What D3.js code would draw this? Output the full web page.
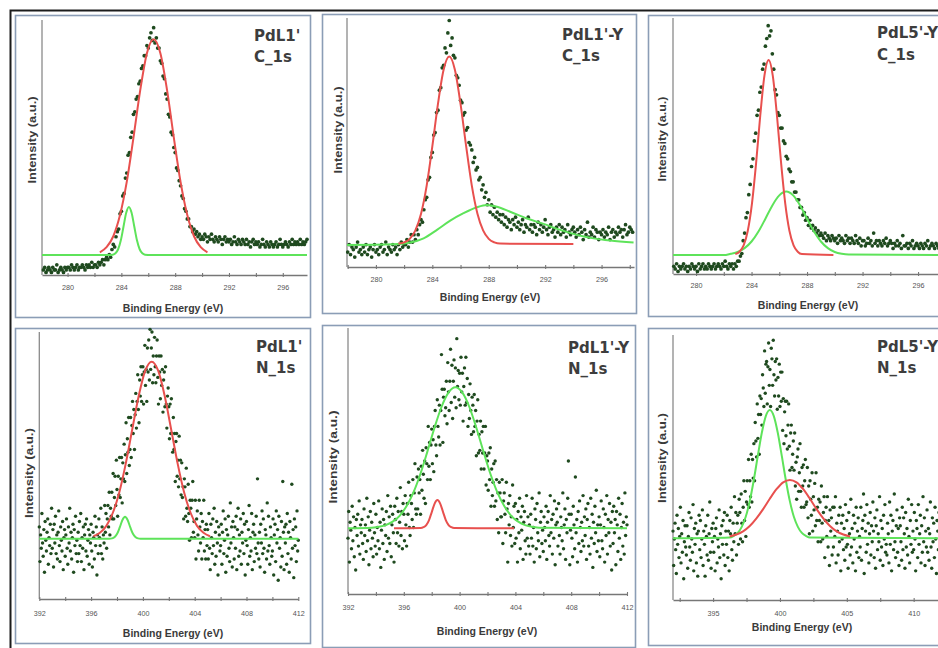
<!DOCTYPE html>
<html>
<head>
<meta charset="utf-8">
<script src="https://cdn.jsdelivr.net/npm/d3@7"></script>
<style>
  html, body { margin: 0; padding: 0; background: #fff; }
  svg { display: block; }
</style>
</head>
<body>
<svg id="fig" width="938" height="648"></svg>
<script>
// ---------------- axis ticks ----------------
const c1sTicks = [280, 284, 288, 292, 296];
const c1sMinorTicks = [278, 282, 286, 290, 294, 298];
const n1sTicks = [392, 396, 400, 404, 408, 412];
const n1sMinorTicks = [394, 398, 402, 406, 410];
const n1sTicksWide = [395, 400, 405, 410];
const n1sMinorTicksWide = [392.5, 397.5, 402.5, 407.5];

const sampleNames = ["PdL1'", "PdL1'-Y", "PdL5'-Y"];
const regionNames = ["C_1s", "N_1s"];

// ---------------- measured spectra ----------------
// intensity in a.u. (0 = energy axis, 100 = top of intensity axis),
// one value per energy step starting at the given binding energy
const c1sStep = 0.1;
const n1sStep = 0.05;

const obsC1sPdL1Start = 278.2;
const obsC1sPdL1 = [
  2,3,1,2,3,2,1,3,2,2,4,1,2,3,2,1,3,2,3,
  3,2,4,3,2,3,4,2,3,3,4,3,2,4,3,4,3,5,3,4,
  4,3,5,4,5,
  6,4,6,7,6,8,7,10,12,11,
  15,17,18,24,25,31,32,38,40,47,
  48,54,56,63,64,69,70,75,76,81,
  82,86,86,90,89,93,95,92,97,91,
  93,89,89,84,83,78,77,71,69,63,
  62,56,55,50,48,42,41,37,35,31,
  30,26,25,22,22,19,19,17,18,16,
  17,15,16,14,15,
  14,16,15,13,15,14,16,14,13,15,
  14,13,15,14,12,14,15,13,14,13,
  14,12,13,15,13,12,14,13,12,14,
  13,12,14,12,13,11,13,14,12,13,
  12,13,11,12,14,12,11,13,12,11,
  13,12,11,12,13,11,12,14,12,11,
  12,13,12,11,13,12,14,12,13,12,
  13,12,14,12,13,12,13,14
];

const obsC1sPdL1YStart = 278.0;
const obsC1sPdL1Y = [
  6,9,5,8,7,4,8,10,6,7,5,
  8,6,9,5,7,8,4,7,9,6,
  7,5,8,9,6,7,10,5,8,7,
  6,9,7,8,5,9,7,10,8,9,
  9,11,8,10,
  13,10,13,11,15,13,17,19,18,23,
  27,28,35,36,44,46,53,54,62,63,
  71,72,80,81,88,86,94,99,89,92,
  85,84,77,76,73,67,66,61,62,55,
  56,50,49,47,42,44,39,40,35,36,
  31,33,28,30,25,27,22,25,21,24,
  20,22,19,21,18,21,
  17,20,16,19,18,15,19,17,20,16,
  18,15,17,19,14,17,16,20,15,17,
  14,17,16,13,18,15,17,14,16,19,
  15,13,16,17,14,15,12,16,14,17,
  13,16,14,15,12,17,14,13,15,16,
  14,12,15,13,16,14,11,15,13,18,
  12,14,13,16,12,15,14,11,14,13,
  15,12,14,13,16,11,14,15,12,14,
  13,16,14,15,12,15,17,13,14,16,15,14
];

const obsC1sPdL5YStart = 278.4;
const obsC1sPdL5Y = [
  3,2,4,1,3,2,3,4,2,3,
  1,3,2,4,3,2,3,1,4,2,
  3,4,2,3,2,4,3,2,3,4,
  2,3,4,3,2,4,3,5,3,2,
  4,3,4,2,4,3,5,
  5,7,8,13,16,22,24,31,35,42,
  45,52,55,62,64,71,73,80,82,89,
  92,97,93,95,86,80,72,70,63,62,
  57,57,52,51,46,45,41,40,36,36,
  32,32,29,29,26,26,23,24,21,22,
  19,21,18,19,17,18,16,17,15,16,
  15,14,16,13,15,14,13,15,14,13,
  14,12,15,13,14,13,12,15,13,14,
  12,14,13,12,15,13,12,14,11,13,
  13,11,12,14,12,13,11,16,12,13,
  11,13,12,11,13,12,14,11,12,13,
  12,10,12,11,13,11,12,10,15,11,
  11,12,10,12,11,13,10,11,12,11,
  10,12,11,10,12,11,13,10,11,12,
  11,10,12,11,10,12,11,10
];

const obsN1sStart = 392.0;
const obsN1sPdL1 = [
  27,14,24,19,32,21,16,26,10,29,22,18,25,30,13,23,20,28,17,34,
  19,26,12,28,21,31,17,24,15,25,33,20,14,27,22,18,29,11,23,26,
  16,24,30,19,13,27,21,34,18,25,15,23,28,10,26,20,31,17,22,14,
  25,17,29,20,32,14,23,19,27,11,24,28,18,30,16,22,26,13,24,21,
  28,18,12,25,23,15,31,20,27,9,24,17,30,23,20,34,17,27,15,24,
  21,35,25,32,19,30,35,27,40,24,34,31,40,30,47,30,38,46,35,52,
  41,31,46,39,53,38,45,53,36,51,45,58,44,54,66,47,60,55,68,50,
  56,68,53,65,74,62,71,56,69,77,64,74,84,71,66,82,76,87,74,84,
  87,73,85,95,80,86,74,94,85,97,82,101,86,94,100,81,91,84,98,87,
  81,91,97,83,73,91,85,75,91,80,86,70,82,85,72,87,73,64,76,79,
  72,60,73,62,75,62,55,68,56,62,44,59,62,46,52,42,61,45,52,39,
  51,38,42,30,45,42,31,49,34,29,43,32,22,37,34,23,37,44,25,29,
  23,37,15,30,33,24,18,37,27,21,32,15,29,23,37,18,26,15,28,20,
  26,15,32,19,11,28,23,17,30,20,34,13,25,16,29,21,9,27,24,18,
  20,28,13,25,33,17,22,30,10,26,16,24,31,19,14,36,21,27,12,29,
  23,15,27,19,31,11,26,34,16,24,18,30,13,25,21,32,17,28,9,22,
  29,20,13,26,35,16,23,18,32,11,25,28,14,24,19,31,17,45,21,15,
  25,12,28,21,33,17,30,19,10,26,24,15,36,18,31,20,13,27,23,16,
  18,30,9,24,28,14,33,21,26,7,31,19,23,12,29,16,44,25,11,27,
  21,28,13,32,17,25,10,29,23,15,43,19,26,8,30,20,27,14,33,18,
  22
];

const obsN1sPdL1Y = [
  21,31,12,27,24,17,33,20,29,14,25,9,28,22,30,18,35,15,26,23,
  28,19,13,32,22,26,16,36,20,29,11,24,31,17,27,21,14,34,23,18,
  30,15,25,20,35,17,27,10,24,32,19,28,13,26,22,31,16,37,21,29,
  19,33,14,26,30,23,12,33,28,19,36,23,31,18,27,40,22,31,17,34,
  30,20,37,26,18,34,30,42,25,22,37,34,28,43,25,38,49,32,30,44,
  32,47,38,43,30,48,39,54,45,36,50,34,55,49,43,63,48,57,43,56,
  62,49,58,46,63,69,56,52,73,63,59,71,56,69,90,77,57,74,77,67,
  70,80,64,87,76,69,80,92,72,86,66,80,88,74,85,70,96,78,84,73,
  83,71,89,76,83,65,78,85,71,89,72,81,63,75,66,79,69,60,74,71,
  61,75,63,69,52,65,73,53,60,54,65,47,61,53,63,47,53,63,41,52,
  50,39,53,43,55,33,47,37,42,49,33,50,35,43,28,38,23,42,38,29,
  29,43,19,35,38,30,23,42,32,12,34,26,37,22,29,18,41,25,33,19,
  34,21,28,12,31,23,36,17,29,24,33,13,27,31,20,15,37,21,29,18,
  26,15,30,21,36,18,25,12,32,28,17,34,23,20,38,14,27,31,19,24,
  16,29,25,20,33,13,27,31,22,18,37,23,28,15,30,21,35,11,26,32,
  27,18,34,22,15,29,25,20,38,17,26,32,13,28,23,36,50,30,11,24,
  30,21,14,33,26,17,44,23,28,12,31,19,35,25,16,27,20,37,18,29,
  22,32,13,28,34,18,25,15,36,21,30,10,27,19,33,23,39,16,26,20,
  29,14,26,35,20,17,32,25,12,30,22,37,15,28,23,34,18,27,9,31,
  19,33,23,28,11,31,26,16,36,21,30,13,25,34,18,27,15,38,22,29,
  26
];

const obsN1sPdL5Y = [
  26,13,23,29,19,10,32,21,27,16,24,35,14,25,18,30,8,22,28,20,
  17,28,12,24,33,20,15,31,23,18,36,11,27,21,29,14,25,9,26,32,
  19,30,16,23,34,13,26,21,9,28,24,17,32,15,25,37,18,12,27,22,
  29,18,24,11,27,31,14,23,20,34,16,25,8,28,21,30,17,33,13,26,
  21,32,16,26,11,30,25,35,19,15,29,22,39,25,33,17,29,32,21,38,
  33,23,40,29,22,35,45,30,41,24,37,45,36,53,35,45,39,55,37,53,
  46,59,45,67,60,54,74,61,70,55,77,70,76,66,85,80,73,94,78,89,
  90,74,88,97,81,87,73,95,91,81,98,85,77,90,83,91,72,84,77,89,
  73,86,75,86,64,76,59,71,75,62,75,57,66,74,58,49,63,66,50,55,
  60,49,63,43,52,38,54,57,41,48,59,41,35,50,43,51,35,45,53,36,
  37,50,31,43,25,45,38,32,48,26,39,34,44,28,48,30,35,22,38,30,
  37,22,43,29,23,33,39,16,30,35,24,39,20,30,13,34,26,31,17,35,
  20,35,24,39,14,29,26,17,32,22,35,11,29,23,32,19,27,15,36,20,
  30,21,12,33,25,17,38,20,27,14,32,23,29,11,35,18,26,31,16,24,
  20,35,15,27,30,40,10,32,26,18,36,21,29,14,25,33,17,28,22,37,
  26,16,31,12,28,34,19,25,22,39,15,30,20,27,13,32,23,36,18,21,
  17,29,25,14,37,21,32,11,26,30,19,40,22,16,28,34,18,27,13,31,
  28,22,15,35,19,31,25,12,33,20,27,17,38,24,14,30,21,36,18,26,
  19,33,23,11,30,27,16,36,21,25,32,14,28,18,39,22,31,13,26,20,
  34,18,27,15,25,37,20,12,31,22,29,16,35,23,10,30,26,19,33,21,
  24
];

// ---------------- fitted components: [binding energy, intensity] ----------------
const fitC1sPdL1Green = [[278.1,7.8],[283.0,7.8],[283.36,7.97],[283.56,8.5],[283.76,10.1],[283.96,13.6],[284.16,19.0],[284.36,24.4],[284.56,26.7],[284.76,24.4],[284.96,19.0],[285.16,13.6],[285.36,10.1],[285.56,8.5],[285.76,7.97],[286.2,7.8],[297.8,7.8]];
const fitC1sPdL1Red = [[282.4,8.9],[282.9,10.9],[283.4,15.2],[283.9,23.5],[284.4,36.5],[284.9,53.9],[285.4,72.4],[285.9,87.0],[286.4,92.5],[286.9,87.0],[287.4,72.4],[287.9,53.9],[288.4,36.5],[288.9,23.5],[289.4,15.2],[289.9,10.9],[290.4,8.9]];

const fitC1sPdL1YGreen = [[277.95,8.8],[281.25,9.1],[282.43,9.8],[283.38,11.5],[284.33,14.9],[285.27,18.6],[286.21,21.6],[287.16,24.0],[287.87,24.9],[288.58,24.2],[289.52,22.2],[290.71,19.5],[291.89,17.3],[293.07,14.9],[294.26,12.9],[295.43,11.5],[296.62,10.6],[298.27,9.8]];
const fitC1sPdL1YRed = [[281.6,9.4],[282.0,9.9],[282.4,11.3],[282.8,14.7],[283.2,21.4],[283.6,32.7],[284.0,48.4],[284.4,65.5],[284.8,79.2],[285.2,84.5],[285.6,79.2],[286.0,65.5],[286.4,48.4],[286.8,32.7],[287.2,21.4],[287.6,14.7],[288.0,11.3],[288.4,9.9],[288.8,9.4],[294.0,9.2]];

const fitC1sPdL5YGreen = [[278.34,7.4],[282.0,7.4],[282.5,7.9],[283.0,8.6],[283.5,10.1],[284.0,12.7],[284.5,16.6],[285.0,21.6],[285.5,26.8],[286.0,30.7],[286.5,32.2],[287.0,30.7],[287.5,26.8],[288.0,21.6],[288.5,16.6],[289.0,12.7],[289.5,10.1],[290.0,8.6],[290.5,7.9],[291.0,7.6],[298.0,7.4]];
const fitC1sPdL5YRed = [[282.83,7.8],[283.13,8.7],[283.43,11.2],[283.73,16.9],[284.03,27.5],[284.33,43.4],[284.63,62.0],[284.93,77.5],[285.23,83.6],[285.53,77.5],[285.83,62.0],[286.13,43.4],[286.43,27.5],[286.73,16.9],[287.03,11.2],[287.33,8.7],[287.63,7.8],[289.9,7.4]];

const fitN1sPdL1Green = [[392,22.6],[397.4,22.6],[397.62,22.7],[397.82,23.2],[398.02,24.5],[398.22,26.9],[398.42,29.6],[398.62,30.8],[398.82,29.6],[399.02,26.9],[399.22,24.5],[399.42,23.2],[399.62,22.7],[399.82,22.6],[412,22.6]];
const fitN1sPdL1Red = [[396.18,23.5],[396.68,24.8],[397.18,27.4],[397.68,32.3],[398.18,40.0],[398.68,50.8],[399.18,63.6],[399.68,76.1],[400.18,85.5],[400.68,88.9],[401.18,85.5],[401.68,76.1],[402.18,63.6],[402.68,50.8],[403.18,40.0],[403.68,32.3],[404.18,27.4],[404.68,24.8],[405.18,23.5]];

const fitN1sPdL1YGreen = [[392,24.7],[393.7,24.9],[394.2,25.3],[394.7,25.9],[395.2,27.2],[395.7,29.4],[396.2,33.1],[396.7,38.3],[397.2,45.3],[397.7,53.7],[398.2,62.5],[398.7,70.3],[399.2,75.7],[399.7,77.7],[400.2,75.7],[400.7,70.3],[401.2,62.5],[401.7,53.7],[402.2,45.3],[402.7,38.3],[403.2,33.1],[403.7,29.4],[404.2,27.2],[404.7,25.9],[405.2,25.3],[405.7,24.9],[412,24.7]];
const fitN1sPdL1YRed = [[395.3,24.7],[397.21,24.8],[397.41,25.1],[397.61,25.9],[397.81,27.8],[398.01,30.9],[398.21,34.0],[398.41,35.3],[398.61,34.0],[398.81,30.9],[399.01,27.8],[399.21,25.9],[399.41,25.1],[399.61,24.8],[403.9,24.7]];

const fitN1sPdL5YGreen = [[392,23.3],[396.24,23.6],[396.54,24.2],[396.84,25.3],[397.14,27.6],[397.44,31.4],[397.74,37.3],[398.04,45.2],[398.34,54.3],[398.64,63.0],[398.94,69.4],[399.24,71.7],[399.54,69.4],[399.84,63.0],[400.14,54.3],[400.44,45.2],[400.74,37.3],[401.04,31.4],[401.34,27.6],[401.64,25.3],[401.94,24.2],[402.24,23.6],[412,23.3]];
const fitN1sPdL5YRed = [[396.24,24.0],[396.74,24.7],[397.24,25.9],[397.74,27.9],[398.24,30.8],[398.74,34.3],[399.24,38.2],[399.74,41.8],[400.24,44.4],[400.74,45.3],[401.24,44.4],[401.74,41.8],[402.24,38.2],[402.74,34.3],[403.24,30.8],[403.74,27.9],[404.24,25.9],[404.74,24.7],[405.24,24.0]];

// ---------------- styling ----------------
const DOT = "#1f4a1f";
const GREEN = "#5ee35a";
const RED = "#e8504e";
const FRAME = "#8b9db6";

// ---------------- panel layout ----------------
const panels = [
  { name: sampleNames[0], region: regionNames[0], obs: obsC1sPdL1, start: obsC1sPdL1Start, step: c1sStep, dotR: 1.85,
    green: fitC1sPdL1Green, red: fitC1sPdL1Red, major: c1sTicks, minor: c1sMinorTicks,
    frame: [15, 15, 310, 317], xDomain: [278.1, 297.8], xRange: [42, 307], axisY: 275, axisTop: 20,
    tickY: 287.5, xTitle: [173, 308], yTitle: [32, 140, 87], label: [254, 41, 62] },
  { name: sampleNames[1], region: regionNames[0], obs: obsC1sPdL1Y, start: obsC1sPdL1YStart, step: c1sStep, dotR: 1.85,
    green: fitC1sPdL1YGreen, red: fitC1sPdL1YRed, major: c1sTicks, minor: c1sMinorTicks,
    frame: [322, 14, 636, 313], xDomain: [277.95, 298.3], xRange: [347, 634], axisY: 267, axisTop: 18,
    tickY: 279.5, xTitle: [490, 297], yTitle: [338, 130, 87], label: [562, 40, 61] },
  { name: sampleNames[2], region: regionNames[0], obs: obsC1sPdL5Y, start: obsC1sPdL5YStart, step: c1sStep, dotR: 1.85,
    green: fitC1sPdL5YGreen, red: fitC1sPdL5YRed, major: c1sTicks, minor: c1sMinorTicks,
    frame: [648, 15, 962, 316], xDomain: [278.34, 298], xRange: [673, 945.8], axisY: 274, axisTop: 18,
    tickY: 285, xTitle: [808, 305.5], yTitle: [662, 139, 85], label: [877, 38, 60] },
  { name: sampleNames[0], region: regionNames[1], obs: obsN1sPdL1, start: obsN1sStart, step: n1sStep, dotR: 1.7,
    green: fitN1sPdL1Green, red: fitN1sPdL1Red, major: n1sTicks, minor: n1sMinorTicks,
    frame: [15, 328, 310, 643], xDomain: [392, 412], xRange: [39.3, 298.3], axisY: 599, axisTop: 332,
    tickY: 613, xTitle: [173, 633], yTitle: [29, 473, 90], label: [256, 352, 373] },
  { name: sampleNames[1], region: regionNames[1], obs: obsN1sPdL1Y, start: obsN1sStart, step: n1sStep, dotR: 1.7,
    green: fitN1sPdL1YGreen, red: fitN1sPdL1YRed, major: n1sTicks, minor: n1sMinorTicks,
    frame: [322, 325, 635, 647], xDomain: [392, 412], xRange: [348, 627], axisY: 594, axisTop: 328,
    tickY: 607.5, xTitle: [487, 631], yTitle: [333, 457, 93], label: [568, 353, 374] },
  { name: sampleNames[2], region: regionNames[1], obs: obsN1sPdL5Y, start: obsN1sStart, step: n1sStep, dotR: 1.7,
    green: fitN1sPdL5YGreen, red: fitN1sPdL5YRed, major: n1sTicksWide, minor: n1sMinorTicksWide,
    frame: [648, 328, 962, 645], xDomain: [392, 412], xRange: [673, 940.4], axisY: 600, axisTop: 335,
    tickY: 613, xTitle: [802, 627], yTitle: [662, 458, 90], label: [877, 352, 373] }
];

const svg = d3.select("#fig");
svg.append("rect").attr("width", 938).attr("height", 648).attr("fill", "#fff");

// outer figure border (top and left edges)
svg.append("path")
  .attr("d", "M10.5,648 V10.5 H938")
  .attr("fill", "none").attr("stroke", "#1c1c1c").attr("stroke-width", 2);

panels.forEach(p => {
  const g = svg.append("g");
  const x = d3.scaleLinear().domain(p.xDomain).range(p.xRange);
  const y = d3.scaleLinear().domain([0, 100]).range([p.axisY, p.axisTop]);

  // panel frame
  const [fx0, fy0, fx1, fy1] = p.frame;
  g.append("rect")
    .attr("x", fx0 + 0.5).attr("y", fy0 + 0.5)
    .attr("width", fx1 - fx0).attr("height", fy1 - fy0)
    .attr("fill", "#fff").attr("stroke", FRAME).attr("stroke-width", 1.6);

  // intensity axis (no ticks)
  g.append("line")
    .attr("x1", p.xRange[0]).attr("x2", p.xRange[0])
    .attr("y1", p.axisY).attr("y2", p.axisTop)
    .attr("stroke", "#8a8a8a").attr("stroke-width", 1.3);

  // binding-energy axis with major + minor tick marks
  const tickAxis = d3.axisBottom(x)
    .tickValues(p.major.concat(p.minor).filter(v => v >= p.xDomain[0] && v <= p.xDomain[1]))
    .tickSizeInner(4).tickSizeOuter(0).tickFormat("");
  const ta = g.append("g").attr("transform", `translate(0,${p.axisY - 2})`).call(tickAxis);
  ta.select(".domain").attr("transform", "translate(0,2)").attr("stroke", "#777").attr("stroke-width", 1.6);
  ta.selectAll(".tick line").attr("stroke", "#777").attr("stroke-width", 1.1);

  // tick labels
  const labelAxis = d3.axisBottom(x).tickValues(p.major).tickSize(0).tickFormat(d3.format("d"));
  const la = g.append("g").attr("transform", `translate(0,${p.tickY})`).call(labelAxis);
  la.select(".domain").remove();
  la.selectAll("text")
    .attr("y", 0).attr("dy", "0.35em")
    .attr("fill", "#555")
    .style("font-family", "'Liberation Sans', Arial, sans-serif")
    .style("font-size", "7.2px");

  // axis titles
  g.append("text")
    .attr("x", p.xTitle[0]).attr("y", p.xTitle[1]).attr("dy", "0.35em")
    .attr("text-anchor", "middle")
    .attr("fill", "#3a3a3a")
    .style("font-family", "'Liberation Sans', Arial, sans-serif")
    .style("font-weight", "bold").style("font-size", "10.5px")
    .text("Binding Energy (eV)");

  g.append("text")
    .attr("transform", `translate(${p.yTitle[0]},${p.yTitle[1]}) rotate(-90)`)
    .attr("dy", "0.35em")
    .attr("text-anchor", "middle")
    .attr("textLength", p.yTitle[2]).attr("lengthAdjust", "spacingAndGlyphs")
    .attr("fill", "#3a3a3a")
    .style("font-family", "'Liberation Sans', Arial, sans-serif")
    .style("font-weight", "bold").style("font-size", "10.5px")
    .text("Intensity (a.u.)");

  // measured points
  g.append("g").selectAll("circle")
    .data(p.obs)
    .join("circle")
    .attr("cx", (d, i) => x(p.start + i * p.step))
    .attr("cy", d => y(d))
    .attr("r", p.dotR)
    .attr("fill", DOT);

  // fitted components
  const line = d3.line().x(d => x(d[0])).y(d => y(d[1])).curve(d3.curveMonotoneX);
  g.append("path").datum(p.green).attr("d", line)
    .attr("fill", "none").attr("stroke", GREEN).attr("stroke-width", 2);
  g.append("path").datum(p.red).attr("d", line)
    .attr("fill", "none").attr("stroke", RED).attr("stroke-width", 2);

  // sample / core-level label
  const lab = g.append("text")
    .attr("fill", "#3d3d3d")
    .style("font-family", "'DejaVu Sans', sans-serif")
    .style("font-weight", "bold").style("font-size", "15px");
  lab.append("tspan").attr("x", p.label[0]).attr("y", p.label[1]).text(p.name);
  lab.append("tspan").attr("x", p.label[0]).attr("y", p.label[2]).text(p.region);
});
</script>
</body>
</html>
